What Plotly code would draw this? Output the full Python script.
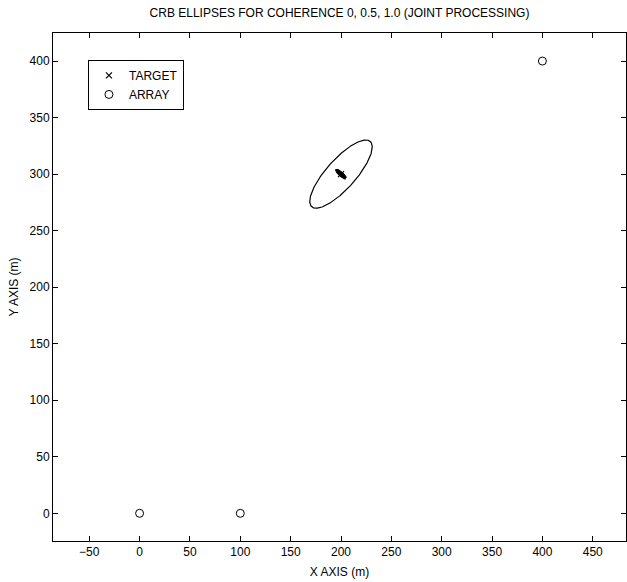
import numpy as np
import plotly.graph_objects as go

# Target and sensor array positions (m)
target_x = [200]
target_y = [300]
array_x = [0, 100, 400]
array_y = [0, 0, 400]

# CRB error ellipses around the target: semi-major, semi-minor (m), orientation (deg)
coherence = [0.0, 0.5, 1.0]
semi_major = [41.0, 5.8, 3.5]
semi_minor = [13.8, 1.3, 0.8]
angle_deg = [44.0, -38.0, -38.0]
line_width = [1.2, 2.4, 2.4]

x_ticks = list(range(-50, 451, 50))
y_ticks = list(range(0, 401, 50))

font = "Liberation Sans, Arial, sans-serif"

fig = go.Figure()

t = np.linspace(0, 2 * np.pi, 241)
for c, a, b, ang, lw in zip(coherence, semi_major, semi_minor, angle_deg, line_width):
    th = np.deg2rad(ang)
    ex = target_x[0] + a * np.cos(t) * np.cos(th) - b * np.sin(t) * np.sin(th)
    ey = target_y[0] + a * np.cos(t) * np.sin(th) + b * np.sin(t) * np.cos(th)
    fig.add_trace(go.Scatter(
        x=ex, y=ey, mode="lines", showlegend=False,
        line=dict(color="black", width=lw),
        name=f"coherence {c}", hoverinfo="skip"))

fig.add_trace(go.Scatter(
    x=target_x, y=target_y, mode="markers", name="TARGET",
    marker=dict(symbol="x-thin-open", size=6, color="black",
                line=dict(color="black", width=1.2))))
fig.add_trace(go.Scatter(
    x=array_x, y=array_y, mode="markers", name="ARRAY",
    marker=dict(symbol="circle-open", size=8, color="black",
                line=dict(color="black", width=1))))

axis_common = dict(
    showgrid=False, zeroline=False, showline=True, linecolor="black",
    linewidth=1, mirror="ticks", ticks="inside", ticklen=5,
    tickcolor="black", tickwidth=1,
    tickfont=dict(family=font, size=12, color="black"),
)

fig.update_layout(
    width=627, height=582,
    paper_bgcolor="white", plot_bgcolor="white",
    margin=dict(l=53, r=1, t=33, b=41),
    title=dict(text="CRB ELLIPSES FOR COHERENCE 0, 0.5, 1.0 (JOINT PROCESSING)",
               x=0.5, xref="paper", xanchor="center",
               y=0.978, yanchor="middle",
               font=dict(family=font, size=12, color="black")),
    xaxis=dict(range=[-86, 483], tickvals=x_ticks,
               title=dict(text="X AXIS (m)", standoff=9,
                          font=dict(family=font, size=12, color="black")),
               **axis_common),
    yaxis=dict(range=[-24.5, 424.8], tickvals=y_ticks,
               title=dict(text="Y AXIS (m)", standoff=8,
                          font=dict(family=font, size=12, color="black")),
               **axis_common),
    legend=dict(x=0.061, y=0.947, xanchor="left", yanchor="top",
                bgcolor="white", bordercolor="black", borderwidth=1,
                font=dict(family=font, size=12, color="black"),
                itemwidth=30, tracegroupgap=0),
    showlegend=True,
)

fig.write_html("out.html")
